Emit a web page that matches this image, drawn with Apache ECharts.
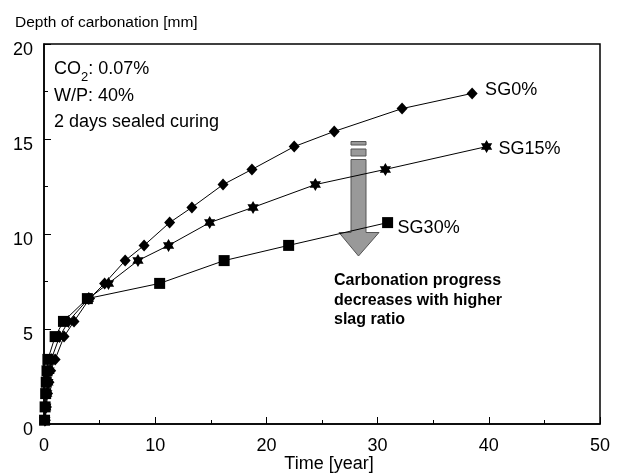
<!DOCTYPE html>
<html>
<head>
<meta charset="utf-8">
<script src="https://cdn.jsdelivr.net/npm/echarts@6/dist/echarts.min.js"></script>
<style>html,body{margin:0;padding:0;background:#fff}#c{width:620px;height:474px}</style>
</head>
<body>
<div id="c"></div>
<script>
// ---- data ----
const sg0Time  = [0.12, 0.22, 0.32, 0.45, 0.6, 1.0, 1.8, 2.7, 4.1, 5.45, 7.3, 9.0, 11.3, 13.3, 16.1, 18.7, 22.5, 26.1, 32.2, 38.5];
const sg0Depth = [0.2, 0.9, 1.6, 2.2, 2.8, 3.4, 4.6, 5.4, 6.6, 7.4, 8.6, 9.4, 10.6, 11.4, 12.6, 13.4, 14.6, 15.4, 16.6, 17.4];
const sg15Time  = [0.08, 0.16, 0.25, 0.35, 0.45, 0.65, 1.4, 2.2, 4.0, 5.8, 8.45, 11.2, 14.9, 18.8, 24.4, 30.7, 39.8];
const sg15Depth = [0.2, 0.9, 1.6, 2.2, 2.8, 3.4, 4.6, 5.4, 6.6, 7.4, 8.6, 9.4, 10.6, 11.4, 12.6, 13.4, 14.6];
const sg30Time  = [0.05, 0.1, 0.15, 0.2, 0.27, 0.35, 1.0, 1.75, 3.9, 10.4, 16.2, 22.0, 30.9];
const sg30Depth = [0.2, 0.9, 1.6, 2.2, 2.8, 3.4, 4.6, 5.4, 6.6, 7.4, 8.6, 9.4, 10.6];
const seriesNames = ['SG0%', 'SG15%', 'SG30%'];
const xTicks = [0, 10, 20, 30, 40, 50];
const yTicks = [0, 5, 10, 15, 20];
const yTitle = 'Depth of carbonation [mm]';
const xTitle = 'Time [year]';
const noteLines = ['CO|2|: 0.07%', 'W/P: 40%', '2 days sealed curing'];
const arrowNote = 'Carbonation progress\ndecreases with higher\nslag ratio';

const FONT = '"Liberation Sans", Arial, sans-serif';
function zip(a, b) { return a.map((v, i) => [v, b[i]]); }

// six-pointed star symbol
function hexagram() {
  const pts = [];
  for (let k = 0; k < 12; k++) {
    const ang = (-90 + k * 30) * Math.PI / 180;
    const r = (k % 2 === 0) ? 50 : 29;
    pts.push((50 + r * Math.cos(ang)).toFixed(2) + ' ' + (50 + r * Math.sin(ang)).toFixed(2));
  }
  return 'path://M' + pts.join(' L') + ' Z';
}

function mkSeries(name, xs, ys, symbol, size, offY, dist) {
  return {
    type: 'line', name: name, data: zip(xs, ys),
    symbol: symbol, symbolSize: size, showAllSymbol: true, symbolKeepAspect: true,
    lineStyle: { color: '#000', width: 1 },
    itemStyle: { color: '#000' },
    endLabel: { show: true, formatter: name, distance: dist, offset: [0, offY],
      fontSize: 18, color: '#000', fontFamily: FONT },
    emphasis: { disabled: true }
  };
}

const chart = echarts.init(document.getElementById('c'), null, { renderer: 'canvas' });
chart.setOption({
  animation: false,
  backgroundColor: '#fff',
  title: { text: yTitle, left: 10, top: 10,
    textStyle: { fontSize: 15.5, fontWeight: 'normal', color: '#000', fontFamily: FONT } },
  grid: { left: 44, right: 20, top: 44, bottom: 50, outerBoundsMode: 'none', containLabel: false,
    show: true, borderColor: '#000', borderWidth: 1.5 },
  xAxis: {
    type: 'value', min: xTicks[0], max: xTicks[xTicks.length - 1], interval: xTicks[1] - xTicks[0],
    name: xTitle, nameLocation: 'middle', nameGap: 31, nameMoveOverlap: false,
    nameTextStyle: { fontSize: 18, color: '#000', fontFamily: FONT, padding: [0, 0, 0, 14] },
    axisLine: { lineStyle: { color: '#000', width: 1.5 } },
    axisTick: { inside: true, length: 7, lineStyle: { color: '#000', width: 1 } },
    minorTick: { show: true, splitNumber: 2, length: 4, lineStyle: { color: '#000', width: 1 } },
    splitLine: { show: false },
    axisLabel: { fontSize: 18, color: '#000', fontFamily: FONT, margin: 13 }
  },
  yAxis: {
    type: 'value', min: yTicks[0], max: yTicks[yTicks.length - 1], interval: yTicks[1] - yTicks[0],
    axisLine: { show: true, lineStyle: { color: '#000', width: 1.5 } },
    axisTick: { show: true, inside: true, length: 7, lineStyle: { color: '#000', width: 1 } },
    minorTick: { show: true, splitNumber: 2, length: 4, lineStyle: { color: '#000', width: 1 } },
    splitLine: { show: false },
    axisLabel: { fontSize: 18, color: '#000', fontFamily: FONT, margin: 11, verticalAlign: 'top', lineHeight: 12 }
  },
  series: [
    mkSeries(seriesNames[0], sg0Time, sg0Depth, 'diamond', [11, 12], -3, 13),
    mkSeries(seriesNames[1], sg15Time, sg15Depth, hexagram(), 13, 2, 12),
    mkSeries(seriesNames[2], sg30Time, sg30Depth, 'rect', 11, 5, 10)
  ],
  graphic: [
    { type: 'text', left: 54, top: 60, style: {
        text: '{a|CO}{s|2}{a|: 0.07%}',
        rich: { a: { fontSize: 18, fontFamily: FONT, fill: '#000', lineHeight: 30 },
                s: { fontSize: 13, fontFamily: FONT, fill: '#000', lineHeight: 13, verticalAlign: 'bottom' } } } },
    { type: 'text', left: 54, top: 87, style: { text: noteLines[1], fontSize: 18, fontFamily: FONT, fill: '#000' } },
    { type: 'text', left: 54, top: 113, style: { text: noteLines[2], fontSize: 18, fontFamily: FONT, fill: '#000' } },
    { type: 'text', left: 334, top: 271, style: { text: arrowNote, fontSize: 16, fontWeight: 'bold',
        lineHeight: 19.5, fontFamily: FONT, fill: '#000' } },
    { type: 'group', children: [
      { type: 'rect', shape: { x: 351, y: 141.5, width: 15, height: 3.5 }, style: { fill: '#999', stroke: '#555', lineWidth: 1 } },
      { type: 'rect', shape: { x: 351, y: 149, width: 15, height: 7 }, style: { fill: '#999', stroke: '#555', lineWidth: 1 } },
      { type: 'polygon', shape: { points: [[351, 159.5], [366, 159.5], [366, 232.5], [379, 232.5], [358.5, 256], [339, 232.5], [351, 232.5]] },
        style: { fill: '#999', stroke: '#555', lineWidth: 1 } }
    ] }
  ]
});
</script>
</body>
</html>
